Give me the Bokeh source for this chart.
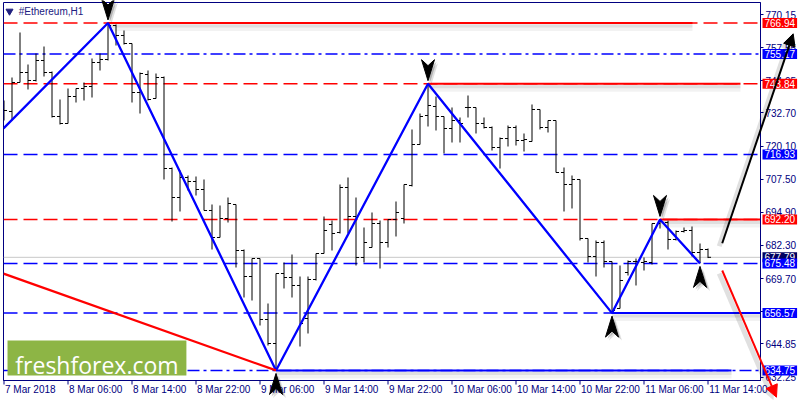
from bokeh.plotting import figure
from bokeh.models import (Range1d, LinearAxis, FixedTicker, Label, Arrow, NormalHead,
                          PrintfTickFormatter)
from bokeh.embed import file_html
from bokeh.resources import INLINE

# ---------------- data ----------------
symbol_title = "#Ethereum,H1"
brand_text = "freshforex.com"

time_label_bars = [0, 8, 16, 24, 32, 40, 48, 56, 64, 72, 80, 88]
time_labels = ["7 Mar 2018", "8 Mar 06:00", "8 Mar 14:00", "8 Mar 22:00", "9 Mar 06:00",
               "9 Mar 14:00", "9 Mar 22:00", "10 Mar 06:00", "10 Mar 14:00", "10 Mar 22:00",
               "11 Mar 06:00", "11 Mar 14:00"]

price_ticks = [632.25, 644.85, 657.10, 669.70, 682.30, 694.90, 707.50, 720.10,
               732.70, 744.95, 757.55, 770.15]

bar_open = [734.02, 733.26, 744.29, 748.09, 745.05, 752.66, 748.09, 731.35, 728.69, 738.96,
            742.00, 742.77, 751.90, 753.04, 765.97, 762.17, 759.12, 740.48, 747.33, 738.20,
            746.19, 711.57, 700.54, 708.15, 706.63, 703.58, 695.60, 685.33, 692.55, 697.88,
            680.38, 670.49, 677.34, 654.13, 645.00, 671.63, 670.11, 667.07, 654.51, 669.35,
            679.24, 690.27, 687.23, 704.35, 693.31, 677.72, 681.52, 690.65, 683.42, 692.17,
            692.55, 705.11, 720.70, 731.73, 735.16, 731.35, 726.79, 729.83, 734.78, 734.78,
            728.69, 727.17, 719.56, 722.98, 727.17, 722.22, 721.84, 734.02, 727.17, 729.83,
            710.05, 705.49, 707.39, 684.95, 678.10, 683.42, 676.20, 658.32, 672.01, 676.20,
            675.82, 675.82, 690.65, 691.03, 684.57, 687.61, 687.99, 679.62, 680.76]
bar_high = [737.44, 746.19, 763.31, 751.13, 755.32, 757.98, 748.47, 737.82, 742.00, 742.00,
            744.29, 753.42, 755.32, 766.94, 766.35, 764.07, 759.12, 748.09, 748.85, 747.71,
            746.57, 711.95, 710.81, 708.91, 708.53, 707.39, 697.88, 697.50, 700.54, 697.88,
            680.76, 677.34, 677.34, 660.22, 671.63, 675.82, 678.86, 670.49, 670.49, 679.24,
            693.31, 691.79, 705.49, 708.15, 700.54, 689.13, 694.84, 691.79, 692.17, 699.02,
            705.49, 726.41, 732.49, 743.84, 738.96, 731.35, 734.78, 730.97, 739.34, 734.78,
            730.97, 727.55, 723.37, 727.93, 727.93, 724.89, 735.92, 734.02, 729.83, 729.83,
            711.95, 708.91, 707.39, 684.95, 684.19, 684.19, 676.20, 674.67, 676.58, 677.34,
            677.72, 690.65, 692.20, 691.79, 687.99, 689.13, 689.51, 683.04, 681.14]
bar_low = [729.83, 729.83, 744.29, 741.62, 744.67, 746.57, 730.97, 728.31, 728.69, 736.68,
           737.44, 738.58, 748.85, 752.66, 758.36, 758.74, 736.68, 732.49, 737.44, 738.20,
           707.39, 691.41, 695.22, 703.20, 701.30, 695.60, 680.76, 685.33, 691.03, 673.91,
           662.50, 661.36, 651.85, 644.24, 634.75, 665.93, 662.50, 643.86, 648.81, 668.97,
           679.24, 680.38, 686.85, 686.85, 674.67, 675.82, 681.52, 673.53, 681.52, 685.71,
           690.65, 704.73, 720.70, 727.55, 726.03, 717.28, 721.46, 721.46, 730.97, 724.89,
           726.79, 718.42, 711.57, 719.94, 720.32, 718.04, 721.84, 726.41, 725.27, 710.05,
           695.22, 696.36, 684.19, 675.82, 670.49, 673.91, 656.57, 658.32, 670.87, 667.07,
           672.77, 675.05, 688.75, 680.76, 684.19, 687.23, 678.10, 675.48, 677.50]
bar_close = [733.64, 744.29, 748.09, 745.05, 752.66, 748.09, 731.35, 728.69, 738.96, 742.00,
             742.77, 751.90, 753.04, 765.97, 762.17, 759.12, 740.48, 747.71, 737.82, 746.19,
             711.57, 700.54, 708.15, 706.63, 703.58, 695.60, 685.33, 692.55, 698.26, 680.38,
             670.49, 677.34, 654.13, 645.00, 671.63, 670.11, 667.07, 652.61, 669.35, 679.24,
             687.99, 686.85, 704.35, 693.31, 677.72, 683.42, 690.65, 683.42, 692.17, 694.84,
             705.49, 720.70, 731.35, 735.54, 731.35, 726.79, 729.83, 728.69, 734.78, 728.69,
             727.17, 719.56, 722.98, 727.17, 722.22, 722.60, 734.02, 727.17, 729.83, 710.05,
             705.49, 707.39, 684.95, 678.10, 683.42, 676.20, 657.56, 668.97, 676.20, 676.20,
             676.20, 690.65, 691.41, 684.57, 687.61, 687.99, 679.62, 680.76, 677.79]

level_prices = [766.94, 755.17, 743.84, 716.93, 692.20, 675.48, 656.57, 634.75]
level_colors = ["#FF0000", "#0000FF", "#FF0000", "#0000FF", "#FF0000", "#0000FF", "#0000FF", "#0000FF"]
level_styles = ["dash", "dashdot", "dash", "dash", "dash", "dash", "dash", "dashdot"]

ray_prices = [766.94, 743.84, 692.20, 656.57, 634.75]
ray_start_bars = [13, 53, 82, 76, 34]
ray_end_bars = [86.06, 92.06, 94.56, 94.56, 90.94]
ray_colors = ["#FF0000", "#FF0000", "#FF0000", "#0000FF", "#0000FF"]

zigzag_bars = [-0.06, 13, 34, 53, 76, 82, 87]
zigzag_prices = [726.8, 766.94, 634.75, 743.84, 656.57, 692.20, 675.48]

trend_bars = [-0.06, 34]
trend_prices = [671.6, 634.75]

peak_bars = [13, 53, 82]
peak_prices = [766.94, 743.84, 692.20]
trough_bars = [34, 76, 87]
trough_prices = [634.75, 656.57, 675.48]

current_price = 677.79

forecast_up = [89.78, 683.15, 98.65, 762.81]     # x0, y0, x1, y1
forecast_down = [89.78, 672.77, 96.56, 624.58]

# ---------------- layout / style ----------------
NAVY = "#000080"
FONT = "Liberation Sans"
W, H = 800, 400
BL, BT, BR, BB = 3, 2, 40, 20          # borders around the chart frame
FW, FH = W - BL - BR, H - BT - BB
X0, X1 = -0.0625, 94.5625
Y0, Y1 = 630.93, 774.72
PXB = FW / (X1 - X0)     # pixels per bar
PXP = FH / (Y1 - Y0)     # pixels per price unit
DASH = {"dash": "14 6", "dashdot": "12 4 3 4"}

# ======== base chart (with the real axes) ========
p = figure(width=W, height=H, x_range=Range1d(X0, X1), y_range=Range1d(Y0, Y1),
           y_axis_location="right", x_axis_location=None, toolbar_location=None,
           output_backend="svg", min_border_left=BL, min_border_top=BT,
           min_border_right=BR, min_border_bottom=BB)
p.grid.grid_line_color = None
p.outline_line_color = NAVY
p.outline_line_width = 1
p.background_fill_color = "white"
p.border_fill_color = "white"

ya = p.yaxis[0]
ya.ticker = FixedTicker(ticks=price_ticks)
ya.formatter = PrintfTickFormatter(format="%.2f")
ya.major_tick_out = 3
ya.major_tick_in = 0
ya.minor_tick_out = 0
ya.minor_tick_in = 0
ya.major_label_standoff = 2
ya.axis_line_color = NAVY
ya.major_tick_line_color = NAVY
ya.major_label_text_color = NAVY
ya.major_label_text_font = FONT
ya.major_label_text_font_size = "10px"

# time axis: labels start at their tick (MT4 style)
CW = {" ": 2.78, "M": 8.33, "a": 5.56, "r": 3.33, ":": 2.78}
label_pos = []
overrides = {}
for b, lab in zip(time_label_bars, time_labels):
    w = sum(CW.get(c, 5.56) for c in lab)
    pos = round(b + (w / 2 + 1.0) / PXB, 4)
    label_pos.append(pos)
    overrides[pos] = lab
ax_l = LinearAxis(ticker=FixedTicker(ticks=label_pos), major_label_overrides=overrides,
                  major_tick_out=0, major_tick_in=0, minor_tick_out=0, minor_tick_in=0,
                  axis_line_color=NAVY, major_label_standoff=3,
                  major_label_text_color=NAVY, major_label_text_font=FONT,
                  major_label_text_font_size="10px")
p.add_layout(ax_l, "below")

for lv, col, st in zip(level_prices, level_colors, level_styles):
    p.segment(x0=X0, y0=lv, x1=X1, y1=lv, line_color=col, line_width=1.5,
              line_dash=DASH[st])

p.segment(x0=X0, y0=current_price, x1=X1, y1=current_price, line_color="#C8C8C8", line_width=1)

idx = list(range(len(bar_open)))
TK = 0.38
p.segment(x0=idx, y0=bar_low, x1=idx, y1=bar_high, line_color="black", line_width=1)
p.segment(x0=[i - TK for i in idx], y0=bar_open, x1=idx, y1=bar_open, line_color="black", line_width=1)
p.segment(x0=idx, y0=bar_close, x1=[i + TK for i in idx], y1=bar_close, line_color="black", line_width=1)

for lv, xs, xe, col in zip(ray_prices, ray_start_bars, ray_end_bars, ray_colors):
    p.segment(x0=xs, y0=lv - 4.5 / PXP, x1=xe, y1=lv - 4.5 / PXP, line_color="black",
              line_alpha=0.05, line_width=7)
    p.segment(x0=xs, y0=lv - 3.0 / PXP, x1=xe, y1=lv - 3.0 / PXP, line_color="black",
              line_alpha=0.08, line_width=3)
    p.segment(x0=xs, y0=lv, x1=xe, y1=lv, line_color=col, line_width=2)

p.line(zigzag_bars, zigzag_prices, line_color="#0000FF", line_width=2.3)
p.line(trend_bars, trend_prices, line_color="#FF0000", line_width=2.3)

p.quad(left=0.44, right=22.8, top=646.14, bottom=632.83, fill_color="#8DB545", line_color=None)
p.add_layout(Label(x=11.62, y=636.8, text=brand_text, text_align="center",
                   text_baseline="alphabetic", text_color="white", text_font="Open Sans",
                   text_font_size="23px"))

p.scatter([0.69], [771.41], marker="inverted_triangle", size=7, fill_color="#202080",
          line_color="#202080")
p.add_layout(Label(x=1.85, y=771.3, text=symbol_title, text_align="left", text_baseline="middle",
                   text_color="#202080", text_font=FONT, text_font_size="10px"))

# ======== transparent overlay covering the whole canvas (same data mapping) ========
AX0 = X0 - BL / PXB
AX1 = AX0 + W / PXB
AY1 = Y1 + BT / PXP
AY0 = AY1 - H / PXP
q = figure(width=W, height=H, x_range=Range1d(AX0, AX1), y_range=Range1d(AY0, AY1),
           x_axis_location=None, y_axis_location=None, toolbar_location=None,
           output_backend="svg", min_border_left=0, min_border_right=0,
           min_border_top=0, min_border_bottom=0)
q.grid.visible = False
q.outline_line_color = None
q.background_fill_alpha = 0
q.border_fill_alpha = 0
q.styles = {"position": "absolute", "left": "0px", "top": "0px"}

# time-axis tick marks
q.segment(x0=time_label_bars, y0=Y0, x1=time_label_bars, y1=Y0 - 4 / PXP,
          line_color=NAVY, line_width=1)

# price boxes on the axis
q.add_layout(Label(x=X1, y=current_price, x_offset=2, text=f"{current_price:.2f}",
                   text_align="left", text_baseline="middle", text_color="white",
                   text_font=FONT, text_font_size="10px", background_fill_color="#000060",
                   padding=dict(left=2, right=2, top=1, bottom=1)))
for lv, col in zip(level_prices, level_colors):
    q.add_layout(Label(x=X1, y=lv, x_offset=2, text=f"{lv:.2f}", text_align="left",
                       text_baseline="middle", text_color="white", text_font=FONT,
                       text_font_size="10px", background_fill_color=col,
                       padding=dict(left=2, right=2, top=1, bottom=1)))

# pivot arrowheads
def head(xb, price, down):
    s = 1 if down else -1
    tip = price + s * 3.0 / PXP
    shape = [(0, 0), (6.5, -21), (0, -15), (-6.5, -21)]
    xs = [xb + dx / PXB for dx, dy in shape]
    ys = [tip - s * dy / PXP for dx, dy in shape]
    return xs, ys

for bars, prices, down in ((peak_bars, peak_prices, True), (trough_bars, trough_prices, False)):
    for xb, pr in zip(bars, prices):
        xs, ys = head(xb, pr, down)
        for off, alpha in ((3.5, 0.12), (2.0, 0.2)):
            q.patch([x + off / PXB for x in xs], [y - off / PXP for y in ys],
                    fill_color="black", fill_alpha=alpha, line_color=None)
        q.patch(xs, ys, fill_color="black", line_color="black", line_width=1)

# forecast arrows
for (x0, y0, x1, y1), col in ((forecast_up, "black"), (forecast_down, "#FF0000")):
    q.add_layout(Arrow(x_start=x0 - 3 / PXB, y_start=y0 - 3 / PXP, x_end=x1 - 3 / PXB,
                       y_end=y1 - 3 / PXP, line_color="black", line_alpha=0.12, line_width=5,
                       end=NormalHead(size=13, fill_color="black", fill_alpha=0.12,
                                      line_color=None)))
    q.add_layout(Arrow(x_start=x0, y_start=y0, x_end=x1, y_end=y1, line_color=col,
                       line_width=2, end=NormalHead(size=12, fill_color=col, line_color=col)))

open("out.html", "w").write(file_html([p, q], INLINE))
